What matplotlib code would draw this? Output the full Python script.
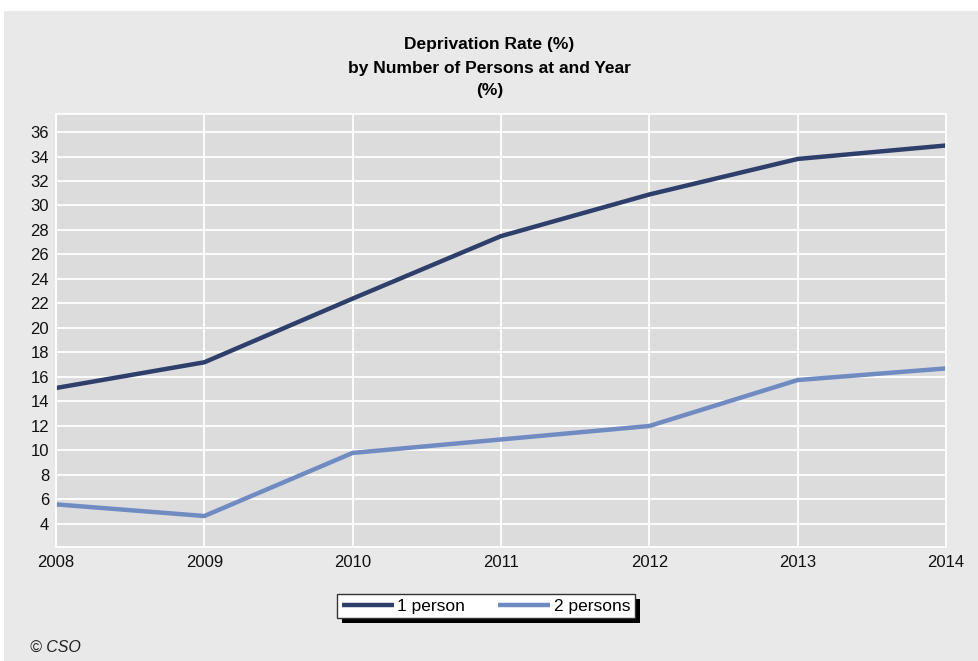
import matplotlib.pyplot as plt
from matplotlib.patches import Rectangle

plt.rcParams['font.family'] = ['Liberation Sans', 'DejaVu Sans']

# data
years = [2008, 2009, 2010, 2011, 2012, 2013, 2014]
one_person = [15.1, 17.2, 22.4, 27.5, 30.9, 33.8, 34.9]
two_persons = [5.6, 4.65, 9.8, 10.9, 12.0, 15.75, 16.7]
y_ticks = list(range(4, 37, 2))

W, H = 979, 661
fig = plt.figure(figsize=(W / 100, H / 100), dpi=100)
fig.patch.set_facecolor('white')

# grey panel behind the chart
fig.patches.append(Rectangle((4 / W, 0), 1, 1 - 11 / H, transform=fig.transFigure,
                             facecolor='#e9e9e9', edgecolor='none', zorder=-1))

left, right, top, bottom = 56, 946, 114, 547
ax = fig.add_axes([left / W, 1 - bottom / H, (right - left) / W, (bottom - top) / H])
ax.set_zorder(1)
ax.set_facecolor('#dcdcdc')

ax.plot(years, one_person, color='#2f3f6b', lw=3.2, label='1 person', solid_capstyle='butt')
ax.plot(years, two_persons, color='#6f8bc2', lw=3.2, label='2 persons', solid_capstyle='butt')

ax.set_xlim(2008, 2014)
ax.set_ylim(2.12, 37.47)
ax.set_xticks(years)
ax.set_yticks(y_ticks)
ax.grid(True, color='white', lw=1.3)
ax.set_axisbelow(True)
for s in ax.spines.values():
    s.set_color('white')
    s.set_linewidth(1.3)
ax.tick_params(length=0, labelsize=12, colors='#111111')
ax.tick_params(axis='y', pad=5)
ax.tick_params(axis='x', pad=6)

title_kw = dict(ha='center', va='center', fontsize=12.5, fontweight='bold')
fig.text(0.5, 1 - 45 / H, 'Deprivation Rate (%)', **title_kw)
fig.text(0.5, 1 - 68 / H, 'by Number of Persons at and Year', **title_kw)
fig.text(0.5, 1 - 90 / H, '(%)', **title_kw)

fig.text(30 / W, 1 - 647 / H, '© CSO', ha='left', va='center', fontsize=11.5,
         style='italic', color='#222222')

leg = fig.legend(loc='center', bbox_to_anchor=(486 / W, 1 - 606 / H), ncol=2,
                 frameon=True, fancybox=False, fontsize=12.5, handlelength=3.0,
                 handletextpad=0.2, columnspacing=1.9, borderpad=0.25,
                 borderaxespad=0, edgecolor='#333333', facecolor='white', framealpha=1)
leg.get_frame().set_linewidth(1.0)
leg.set_zorder(5)

fig.canvas.draw()
bb = leg.get_window_extent().transformed(fig.transFigure.inverted())
fig.patches.append(Rectangle((bb.x0 + 5 / W, bb.y0 - 5 / H), bb.width, bb.height,
                             transform=fig.transFigure, facecolor='black',
                             edgecolor='none', zorder=4))

fig.savefig('out.png', dpi=100)
